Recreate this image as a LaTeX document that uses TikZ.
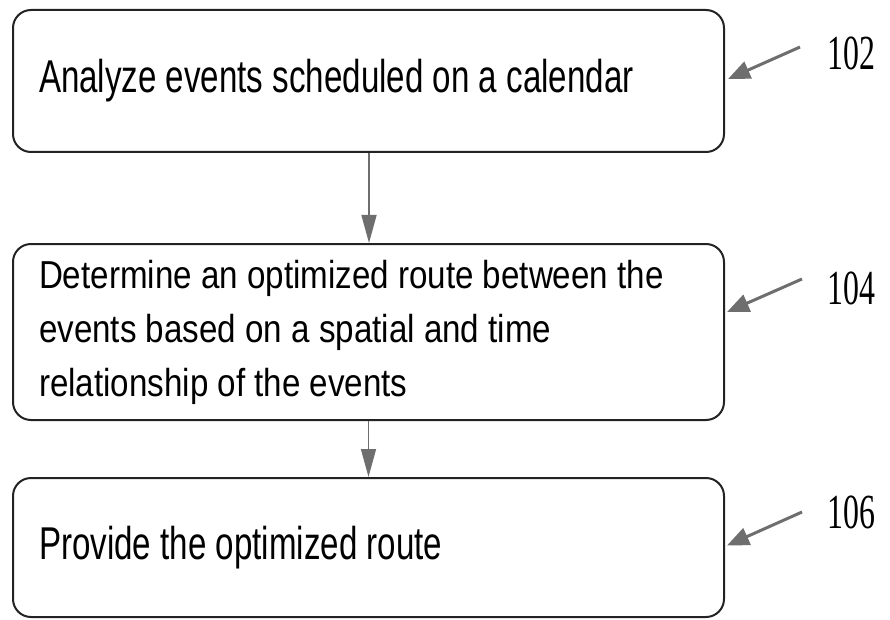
\documentclass[tikz,border=0pt]{standalone}
\usepackage{fontspec}
\usetikzlibrary{arrows.meta,positioning}
\newfontfamily\stepfont[FakeStretch=0.72]{Liberation Sans}
\newfontfamily\stepfontnarrow[FakeStretch=0.85]{Liberation Sans}
\newfontfamily\refnumfont[FakeStretch=0.65]{Liberation Serif}
\newcommand\stepfonttall{\stepfont\fontsize{46}{54}\selectfont\spaceskip=9.2pt\relax}
\newcommand\stepfontshort{\stepfontnarrow\fontsize{39}{54}\selectfont\spaceskip=9.2pt\relax}

\begin{document}
\begin{tikzpicture}[x=1pt,y=-1pt]
\definecolor{boxLineColour}{RGB}{35, 35, 35}
			\definecolor{arrowColour}{RGB}{110, 110, 110}
			\tikzstyle{stepbox}=[rectangle, draw, color=boxLineColour, line width=2pt, rounded corners=18pt, minimum width=711pt, inner xsep=26pt, text width=659pt, align=flush left, text=black]
			\tikzstyle{refnum}=[anchor=west, inner sep=0pt, font=\refnumfont\fontsize{49}{49}\selectfont]
			\tikzstyle{flow}=[-{Triangle[length=28pt, width=15pt]}, color=arrowColour, line width=1.5pt]
			\tikzstyle{pointer}=[-{Triangle[length=22pt, width=18pt]}, color=arrowColour, line width=3pt]

			\useasboundingbox (0,0) rectangle (890,620);

			\node [stepbox, minimum height=142pt, font=\stepfonttall] (analyze) at (368.5,81) {Analyze events scheduled on a calendar};
			\node [stepbox, minimum height=176pt, font=\stepfontshort] (determine) at (368.5,332) {Determine an optimized route between the\\ events based on a spatial and time\\ relationship of the events};
			\node [stepbox, minimum height=139pt, font=\stepfonttall] (provide) at (368.5,547.5) {Provide the optimized route};

			\node [refnum] (n102) at (827,53) {102};
			\node [refnum] (n104) at (827,288) {104};
			\node [refnum] (n106) at (827,512) {106};

			\coordinate (t102) at (800,47);
			\coordinate (t104) at (802,279);
			\coordinate (t106) at (802,512);

			\path[flow]
			([xshift=0.5pt]analyze.south) edge ([xshift=0.5pt]determine.north)
			(determine.south) edge (provide.north);

			\draw[pointer] (t102) -- ([xshift=3pt, yshift=2pt]analyze.east);
			\draw[pointer] (t104) -- ([xshift=2pt, yshift=20pt]determine.east);
			\draw[pointer] (t106) -- ([xshift=2pt, yshift=2pt]provide.east);
		\end{tikzpicture}
\end{document}
